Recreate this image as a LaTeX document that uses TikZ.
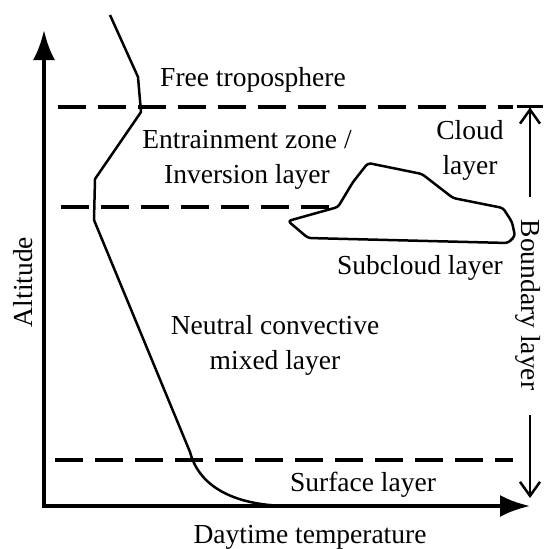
\documentclass[tikz,border=0pt]{standalone}
\usepackage{fontspec}
\setmainfont{Liberation Serif}
\usetikzlibrary{arrows.meta}

\begin{document}
\begin{tikzpicture}[x=1pt,y=-1pt,
  lbl/.style={font=\fontsize{27.5}{35}\selectfont,align=center,inner sep=0pt},
  layerline/.style={line width=3.5pt,dash pattern=on 28pt off 12pt},
  profile/.style={line width=2.5pt,line join=round}]
\useasboundingbox (0,0) rectangle (544,549);
%Axes
\coordinate (T) at (44,30);
\coordinate (O) at (44,506);
\coordinate (E) at (530,506);
\draw[line width=4pt,{Latex[length=30pt,width=22pt]}-{Latex[length=30pt,width=22pt]}]
(T) -- (O) -- (E);
%Layer boundaries
\draw[layerline] (58,107) -- (513,107);
\draw[layerline] (61,207) -- (336,207);
\draw[layerline] (55,460) -- (513,460);
%Temperature profile
\draw[profile]
(110,15) -- (138,77) -- (141,112) -- (95,179) -- (94,220) -- (190,452)
.. controls (200,490) and (240,506) .. (290,506);
%Cloud
\draw[profile,rounded corners=3pt]
(288,221) -- (338,207) -- (353,182) -- (368,163) -- (422,174) -- (453,198)
-- (503,208) -- (512,222) -- (515,236) -- (508,243) -- (308,238) -- cycle;
%Labeling layers
\node[lbl] (free) at (253,80) {Free troposphere};
\node[lbl] (entr) at (247,160) {Entrainment zone /\\Inversion layer};
\node[lbl] (cloud) at (470,150) {Cloud\\layer};
\node[lbl] (subcloud) at (420,268) {Subcloud layer};
\node[lbl] (mixed) at (275,345) {Neutral convective\\mixed layer};
\node[lbl] (surface) at (363,485) {Surface layer};
\node[lbl] (xlab) at (310,537) {Daytime temperature};
\node[lbl,rotate=90] (ylab) at (23,282) {Altitude};
\node[lbl,rotate=-90] (bl) at (528,305) {Boundary layer};
%Extent arrows
\coordinate (cl1) at (530,197);
\coordinate (cl2) at (530,105);
\coordinate (bl1) at (530,415);
\coordinate (bl2) at (530,498);
\draw[line width=2.5pt,-{Straight Barb[length=14pt,width=20pt] Bar[width=26pt]}] (cl1) -- (cl2);
\draw[line width=2.5pt,-{Straight Barb[length=14pt,width=20pt]}] (bl1) -- (bl2);
\end{tikzpicture}
\end{document}
